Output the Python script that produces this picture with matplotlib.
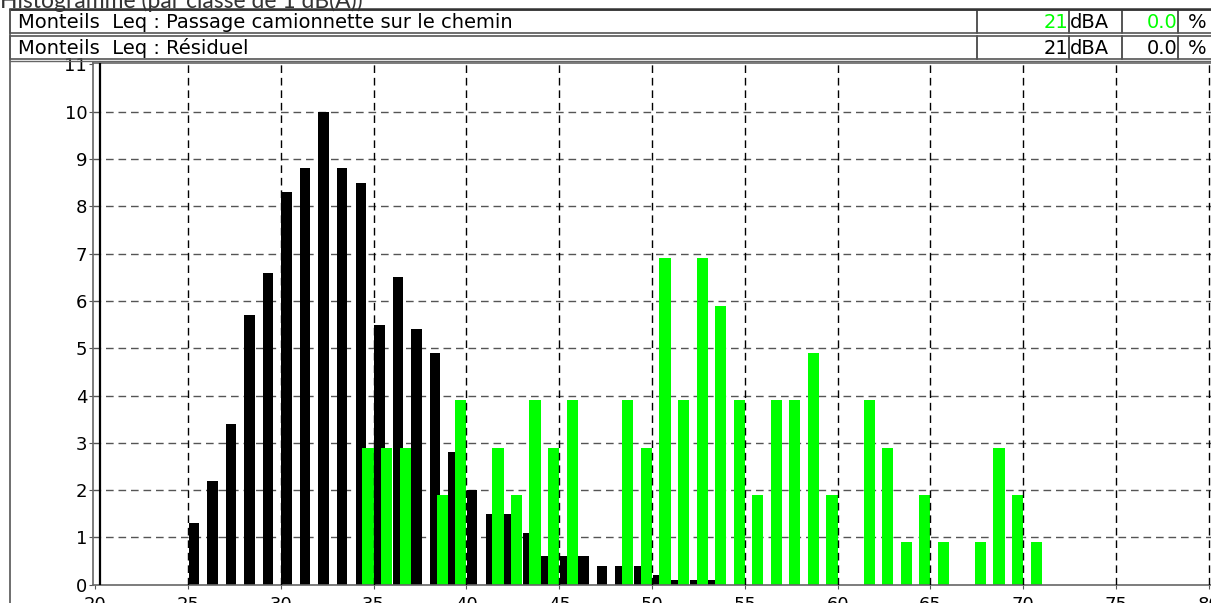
import matplotlib
matplotlib.use("Agg")
import matplotlib.pyplot as plt
from matplotlib.patches import Rectangle

# Histogram classes (1 dB(A) wide), values in %
res_classes = list(range(25, 54))
res_values = [1.3, 2.2, 3.4, 5.7, 6.6, 8.3, 8.8, 10.0, 8.8, 8.5,
              5.5, 6.5, 5.4, 4.9, 2.8, 2.0, 1.5, 1.5, 1.1, 0.6,
              0.6, 0.6, 0.4, 0.4, 0.4, 0.2, 0.1, 0.1, 0.1]

pass_classes = [35, 36, 37, 39, 40, 42, 43, 44, 45, 46, 49, 50, 51, 52, 53, 54,
                55, 56, 57, 58, 59, 60, 62, 63, 64, 65, 66, 68, 69, 70, 71]
pass_values = [2.9, 2.9, 2.9, 1.9, 3.9, 2.9, 1.9, 3.9, 2.9, 3.9, 3.9, 2.9, 6.9, 3.9, 6.9, 5.9,
               3.9, 1.9, 3.9, 3.9, 4.9, 1.9, 3.9, 2.9, 0.9, 1.9, 0.9, 0.9, 2.9, 1.9, 0.9]

# header rows: label, level, percentage, colour of the numbers
row_labels = ["Monteils  Leq : Passage camionnette sur le chemin", "Monteils  Leq : Résiduel"]
row_levels = ["21", "21"]
row_pcts = ["0.0", "0.0"]
row_colors = ["#00ff00", "black"]

xticks = list(range(20, 81, 5))
yticks = list(range(0, 12))

W, H = 1211, 603
fig = plt.figure(figsize=(W / 100, H / 100), dpi=100)

# main plot area
ax = fig.add_axes([92.7 / W, (H - 584.8) / H, (W - 92.7) / W, (584.8 - 62.5) / H])
ax.set_xlim(19.865, 80.12)
ax.set_ylim(0, 11.04)

ax.bar([c + 0.03 for c in res_classes], res_values, width=0.56, align='edge',
       color='black', zorder=2)
ax.bar(pass_classes, pass_values, width=-0.6, align='edge', color='#00ff00', zorder=2.5)

dash = (0, (5.5, 3.5))
for yv in yticks[1:-1]:
    ax.axhline(yv, color='#555555', lw=1.0, ls=dash, zorder=1)
for xv in xticks[1:]:
    ax.axvline(xv, color='black', lw=1.0, ls=dash, zorder=3)
ax.axvline(20.27, color='black', lw=1.6, zorder=3)

ax.set_xticks(xticks)
ax.set_yticks(yticks)
ax.tick_params(axis='both', labelsize=13, length=3, color='#555555', labelcolor='black')
ax.tick_params(axis='x', pad=5)
ax.tick_params(axis='y', pad=1)
for s in ['left', 'bottom', 'top']:
    ax.spines[s].set_color('#666666')
    ax.spines[s].set_linewidth(1.2)
ax.spines['right'].set_visible(False)

# header drawn in pixel coordinates
ov = fig.add_axes([0, 0, 1, 1], facecolor='none')
ov.set_xlim(0, W)
ov.set_ylim(H, 0)
ov.axis('off')

ov.text(0, 7.5, "Histogramme (par classe de 1 dB(A))", va='baseline', ha='left',
        fontsize=16.5, family='Lato', color='#333333')

edges = [10, 977, 1069, 1122, 1178, 1216]
rows = [(10, 33), (36, 59)]
for i, (y0, y1) in enumerate(rows):
    for j in range(len(edges) - 1):
        ov.add_patch(Rectangle((edges[j], y0), edges[j + 1] - edges[j], y1 - y0,
                               fill=False, edgecolor='#555555', lw=1.2))
    yc = (y0 + y1) / 2 + 0.5
    ov.text(18, yc, row_labels[i], va='center', ha='left', fontsize=14, family='DejaVu Sans')
    ov.text(1068, yc, row_levels[i], va='center', ha='right', fontsize=14,
            family='DejaVu Sans', color=row_colors[i])
    ov.text(1070, yc, "dBA", va='center', ha='left', fontsize=14, family='DejaVu Sans')
    ov.text(1177, yc, row_pcts[i], va='center', ha='right', fontsize=14,
            family='DejaVu Sans', color=row_colors[i])
    ov.text(1188, yc, "%", va='center', ha='left', fontsize=14, family='DejaVu Sans')

ov.plot([10, W], [9.3, 9.3], color='#333333', lw=1.8)
ov.plot([10, 10], [10, H], color='#555555', lw=1.2)
ov.plot([10, W], [61.3, 61.3], color='#666666', lw=1.0)

fig.savefig("out.png", dpi=100)
